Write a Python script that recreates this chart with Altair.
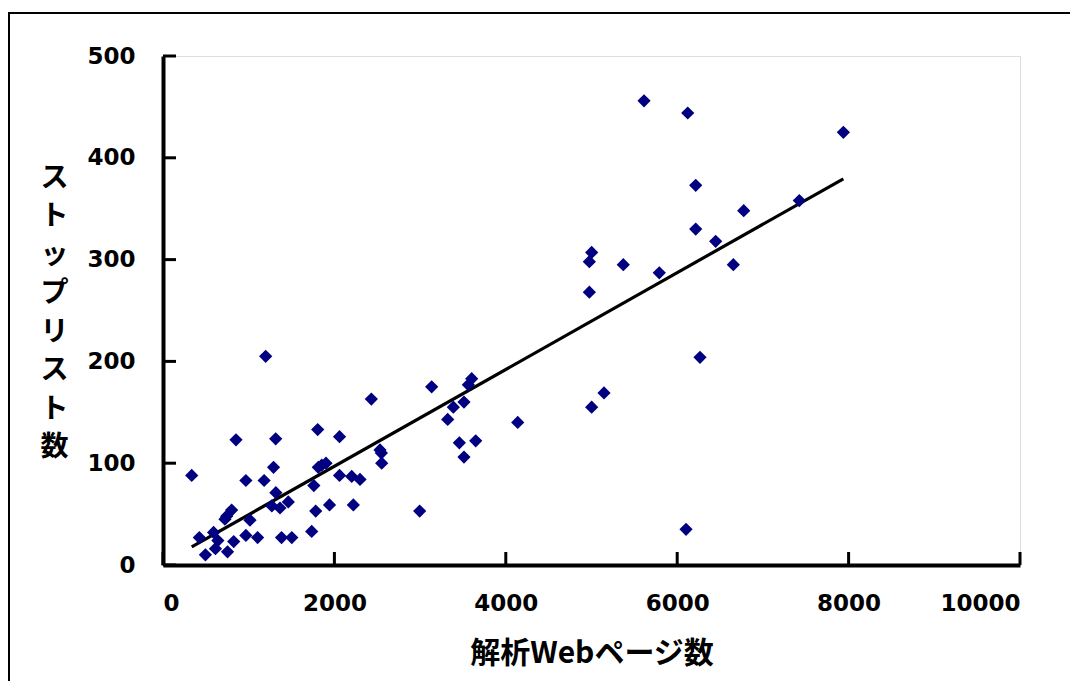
import altair as alt
import pandas as pd

# Data
pages = [335, 424, 495, 590, 640, 612, 753, 825, 723, 743, 801, 852, 967, 967,
         1015, 1104, 1180, 1198, 1290, 1315, 1317, 1270, 1365, 1462, 1383, 1503,
         1735, 1760, 1782, 1805, 1812, 1852, 1902, 1943, 2060, 2060, 2202, 2221,
         2299, 2431, 2532, 2548, 2552, 2995, 3135, 3322, 3388, 3458, 3512, 3512,
         3563, 3602, 3649, 4139, 4975, 4975, 5002, 5002, 5146, 5371, 5613, 5791,
         6103, 6123, 6216, 6216, 6266, 6449, 6655, 6776, 7425, 7939]
stops = [88, 27, 10, 32, 24, 16, 13, 23, 45, 48, 54, 123, 83, 29,
         44, 27, 83, 205, 96, 124, 71, 58, 56, 62, 27, 27,
         33, 78, 53, 133, 96, 98, 100, 59, 126, 88, 87, 59,
         84, 163, 113, 110, 100, 53, 175, 143, 155, 120, 160, 106,
         177, 183, 122, 140, 268, 298, 307, 155, 169, 295, 456, 287,
         35, 444, 373, 330, 204, 318, 295, 348, 358, 425]

x_ticks = [0, 2000, 4000, 6000, 8000, 10000]
y_ticks = [0, 100, 200, 300, 400, 500]

x_title = "解析Webページ数"
y_title = ["ス", "ト", "ッ", "プ", "リ", "ス", "ト", "数"]

W, H = 857, 509

df = pd.DataFrame({"pages": pages, "stops": stops})
xt = pd.DataFrame({"v": x_ticks})
yt = pd.DataFrame({"v": y_ticks})

xscale = alt.Scale(domain=[0, 10000], nice=False, zero=True)
yscale = alt.Scale(domain=[0, 500], nice=False, zero=True)

label_font = "DejaVu Sans"
title_font = "Noto Sans CJK JP"

x_axis = alt.Axis(
    values=x_ticks, format="d", grid=False, ticks=False, tickSize=0,
    domainColor="black", domainWidth=4,
    labelFont=label_font, labelFontSize=23, labelFontWeight="bold",
    labelColor="black", labelPadding=27,
    title=x_title, titleFont=title_font, titleFontSize=30,
    titleFontWeight="bold", titleColor="black",
    titleY=88, titleBaseline="middle",
)
y_axis = alt.Axis(
    values=y_ticks, format="d", grid=False, ticks=False, tickSize=0,
    domainColor="black", domainWidth=4,
    labelFont=label_font, labelFontSize=23, labelFontWeight="bold",
    labelColor="black", labelPadding=28,
    title=y_title, titleFont=title_font, titleFontSize=28,
    titleFontWeight="bold", titleColor="black", titleAngle=0,
    titleX=-109, titleY=122, titleAlign="center", titleBaseline="middle",
    titleLineHeight=38.5,
)

points = alt.Chart(df).mark_point(
    shape="diamond", filled=True, size=175, color="#000080", opacity=1
).encode(
    x=alt.X("pages:Q", scale=xscale, axis=x_axis),
    y=alt.Y("stops:Q", scale=yscale, axis=y_axis),
)

trend = alt.Chart(df).transform_regression(
    "pages", "stops"
).mark_line(color="black", strokeWidth=3.2).encode(
    x=alt.X("pages:Q", scale=xscale),
    y=alt.Y("stops:Q", scale=yscale),
)

x_tick_marks = alt.Chart(xt).mark_rule(color="black", strokeWidth=3).encode(
    x=alt.X("v:Q", scale=xscale),
    y=alt.value(H),
    y2=alt.value(H - 13),
)
y_tick_marks = alt.Chart(yt).mark_rule(color="black", strokeWidth=3).encode(
    y=alt.Y("v:Q", scale=yscale),
    x=alt.value(0),
    x2=alt.value(13),
)

frame = alt.Chart(alt.Data(values=[{"a": 1}])).mark_rect(
    fill="transparent", stroke="black", strokeWidth=2
).encode(
    x=alt.value(-154), x2=alt.value(1100),
    y=alt.value(-43), y2=alt.value(800),
)

chart = alt.layer(frame, x_tick_marks, y_tick_marks, trend, points).properties(
    width=W, height=H,
    padding={"left": 155, "top": 48, "right": 50, "bottom": 116},
    autosize=alt.AutoSizeParams(type="none"),
).configure_view(stroke=None).configure(background="white")

chart.save("out.html", embed_options={"renderer": "svg", "actions": False})
